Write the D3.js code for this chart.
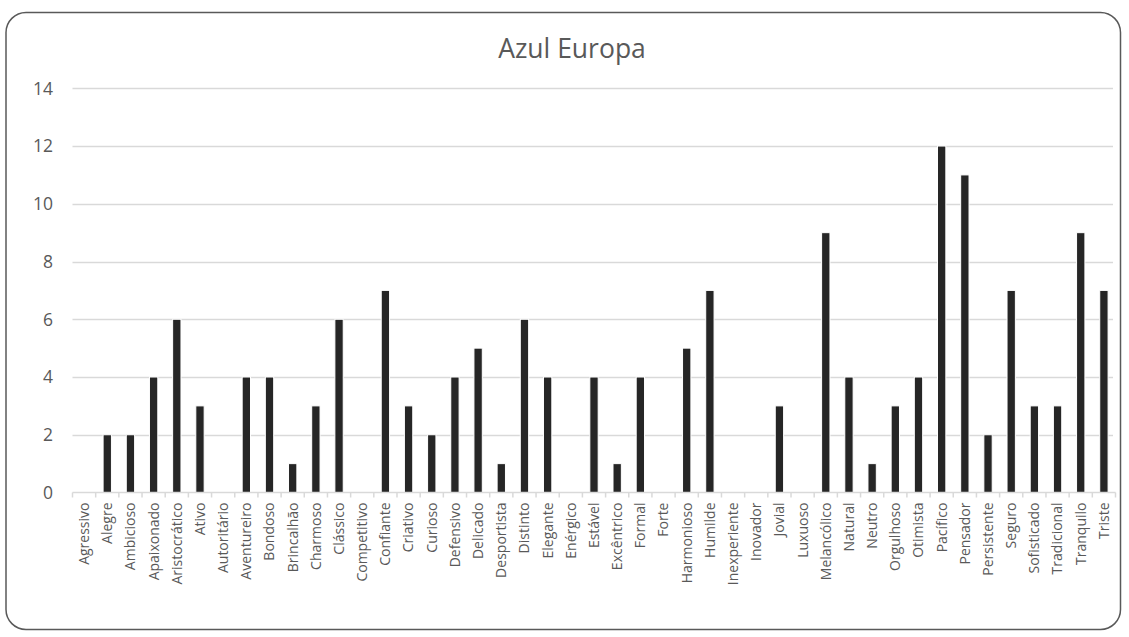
<!DOCTYPE html>
<html><head><meta charset="utf-8">
<script src="https://cdn.jsdelivr.net/npm/d3@7"></script>
<style>body{margin:0;background:#fff}svg{display:block}</style>
</head><body>
<script>
const title = "Azul Europa";
const categories = ["Agressivo","Alegre","Ambicioso","Apaixonado","Aristocrático","Ativo","Autoritário","Aventureiro","Bondoso","Brincalhão","Charmoso","Clássico","Competitivo","Confiante","Criativo","Curioso","Defensivo","Delicado","Desportista","Distinto","Elegante","Enérgico","Estável","Excêntrico","Formal","Forte","Harmonioso","Humilde","Inexperiente","Inovador","Jovial","Luxuoso","Melancólico","Natural","Neutro","Orgulhoso","Otimista","Pacífico","Pensador","Persistente","Seguro","Sofisticado","Tradicional","Tranquilo","Triste"];
const values = [0,2,2,4,6,3,0,4,4,1,3,6,0,7,3,2,4,5,1,6,4,0,4,1,4,0,5,7,0,0,3,0,9,4,1,3,4,12,11,2,7,3,3,9,7];
const yTicks = [0,2,4,6,8,10,12,14];

const W = 1129, H = 637;
const m = {left:72.5, right:1115.5, top:88.3, bottom:492.5};
const svg = d3.select("body").append("svg").attr("width",W).attr("height",H);
svg.append("rect").attr("x",6).attr("y",12.5).attr("width",1114.5).attr("height",617)
  .attr("rx",20).attr("ry",20).attr("fill","#fff").attr("stroke","#595959").attr("stroke-width",1.5);

const x = d3.scaleBand().domain(categories).range([m.left,m.right]).paddingInner(0.64).paddingOuter(0.32);
const y = d3.scaleLinear().domain([0,14]).range([m.bottom,m.top]);
const font = "'Open Sans', 'Noto Sans', sans-serif";

svg.append("text").attr("x",572).attr("y",58).attr("text-anchor","middle")
  .attr("font-family",font).attr("font-size",26.5).attr("fill","#595959").text(title);

svg.append("g").selectAll("line").data(yTicks.filter(d=>d>0)).join("line")
  .attr("x1",m.left).attr("x2",1113).attr("y1",d=>Math.round(y(d))+0.5).attr("y2",d=>Math.round(y(d))+0.5)
  .attr("stroke","#d9d9d9").attr("stroke-width",1.3);

svg.append("g").selectAll("text").data(yTicks).join("text")
  .attr("x",53).attr("y",d=>y(d)).attr("dy","0.36em").attr("text-anchor","end")
  .attr("font-family",font).attr("font-size",17.5).attr("fill","#595959").text(d=>d);

svg.append("g").selectAll("rect").data(categories).join("rect")
  .attr("x",d=>x(d)).attr("width",x.bandwidth())
  .attr("y",(d,i)=>y(values[i])).attr("height",(d,i)=>y(0)-y(values[i]))
  .attr("fill","#262626").attr("stroke","#fff").attr("stroke-width",1);

const ax = svg.append("g").attr("transform",`translate(0,${m.bottom})`);
ax.append("line").attr("x1",m.left).attr("x2",m.right).attr("stroke","#d9d9d9").attr("stroke-width",1.5);
const step = x.step();
ax.selectAll("line.tk").data(d3.range(categories.length+1)).join("line").attr("class","tk")
  .attr("x1",i=>m.left+i*step).attr("x2",i=>m.left+i*step).attr("y1",0).attr("y2",5)
  .attr("stroke","#d9d9d9").attr("stroke-width",1.5);
ax.selectAll("text").data(categories).join("text")
  .attr("transform",d=>`translate(${x(d)+x.bandwidth()/2},10) rotate(-90)`)
  .attr("text-anchor","end").attr("dy","0.35em")
  .attr("font-family",font).attr("font-size",14).attr("fill","#595959").text(d=>d);
</script>
</body></html>
